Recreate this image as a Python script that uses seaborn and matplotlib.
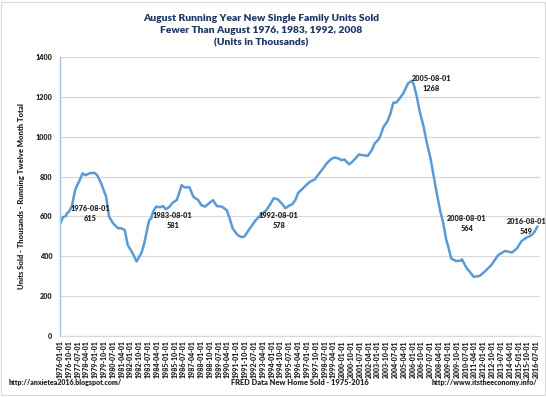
import pandas as pd
import matplotlib.pyplot as plt
from matplotlib.patches import Rectangle
from matplotlib.ticker import MultipleLocator
import seaborn as sns

# Running twelve month total of new single family homes sold (thousands)
months = [
    '1976-01', '1976-04', '1976-07', '1976-08', '1976-10', '1977-01', '1977-03', '1977-05',
    '1977-09', '1977-12', '1978-03', '1978-07', '1978-12', '1979-03', '1979-07', '1979-12',
    '1980-03', '1980-07', '1980-12', '1981-03', '1981-07', '1981-10', '1982-03', '1982-07',
    '1982-12', '1983-03', '1983-07', '1983-08', '1983-10', '1983-12', '1984-03', '1984-07',
    '1984-10', '1985-01', '1985-04', '1985-08', '1985-12', '1986-03', '1986-05', '1986-08',
    '1987-01', '1987-05', '1987-10', '1988-01', '1988-05', '1988-08', '1989-01', '1989-05',
    '1989-10', '1990-03', '1990-06', '1990-09', '1991-02', '1991-06', '1991-09', '1992-01',
    '1992-04', '1992-08', '1992-12', '1993-04', '1993-07', '1993-11', '1994-03', '1994-07',
    '1994-11', '1995-03', '1995-06', '1995-10', '1996-01', '1996-04', '1996-07', '1996-12',
    '1997-04', '1997-09', '1997-12', '1998-04', '1998-09', '1999-01', '1999-05', '1999-09',
    '1999-12', '2000-03', '2000-08', '2000-11', '2001-03', '2001-06', '2001-10', '2002-03',
    '2002-07', '2002-10', '2003-02', '2003-04', '2003-07', '2003-11', '2004-02', '2004-05',
    '2004-08', '2004-12', '2005-03', '2005-08', '2005-10', '2005-12', '2006-02', '2006-05',
    '2006-08', '2006-12', '2007-03', '2007-07', '2007-10', '2008-01', '2008-05', '2008-08',
    '2008-11', '2009-01', '2009-04', '2009-09', '2010-02', '2010-03', '2010-08', '2010-11',
    '2011-03', '2011-09', '2012-02', '2012-09', '2013-04', '2013-11', '2014-03', '2014-06',
    '2014-11', '2015-04', '2015-09', '2016-02', '2016-05', '2016-08',
]
units = [
    562, 596, 602, 615, 624, 649, 699, 741,
    782, 816, 807, 816, 819, 807, 766, 699,
    599, 566, 541, 541, 532, 457, 416, 374,
    416, 466, 560, 581, 591, 624, 649, 646,
    652, 636, 646, 669, 682, 724, 757, 746,
    746, 699, 682, 657, 649, 662, 682, 652,
    649, 632, 591, 541, 507, 496, 499, 528,
    549, 578, 599, 616, 629, 657, 691, 686,
    666, 641, 652, 662, 682, 719, 732, 757,
    774, 786, 807, 832, 866, 886, 896, 891,
    882, 886, 861, 874, 894, 911, 907, 904,
    932, 966, 987, 1007, 1049, 1077, 1116, 1171,
    1171, 1196, 1216, 1268, 1275, 1280, 1259, 1200,
    1125, 1049, 974, 891, 807, 724, 624, 564,
    482, 449, 389, 376, 378, 385, 339, 322,
    297, 301, 322, 356, 406, 427, 422, 419,
    439, 477, 494, 506, 522, 549,
]

# highlighted August points
label_months = ['1976-08', '1983-08', '1992-08', '2005-08', '2008-08', '2016-08']
label_values = [615, 581, 578, 1268, 564, 549]

df = pd.DataFrame({'date': pd.to_datetime(months), 'units': units})
tick_dates = pd.date_range('1976-01-01', '2016-07-01', freq='9MS')

sns.set_style('white')
plt.rcParams['font.family'] = ['Lato', 'DejaVu Sans']
plt.rcParams['font.weight'] = 'heavy'

fig = plt.figure(figsize=(5.46, 3.97), dpi=100)
ax = fig.add_axes([0.110, 0.1537, 0.879, 0.7027])

sns.lineplot(data=df, x='date', y='units', ax=ax, color='#5B9BD5', linewidth=1.8)

ax.set_ylim(0, 1400)
ax.set_xlim(pd.Timestamp('1976-01-01'), pd.Timestamp('2016-10-20'))
ax.yaxis.set_major_locator(MultipleLocator(200))
ax.yaxis.set_minor_locator(MultipleLocator(40))
ax.grid(axis='y', color='#D9D9D9', linewidth=0.9)
ax.set_axisbelow(True)

ax.set_xticks(tick_dates)
ax.set_xticklabels([d.strftime('%Y-%m-%d') for d in tick_dates], rotation=90,
                   fontsize=5, fontweight='heavy')
ax.tick_params(axis='x', length=0, pad=3)
ax.tick_params(axis='y', which='major', labelsize=5.2, length=3, color='#5B9BD5', direction='inout', pad=4)
ax.tick_params(axis='y', which='minor', length=2, color='#5B9BD5', direction='inout')
for lab in ax.get_yticklabels():
    lab.set_fontweight('heavy')

for s in ['top', 'right']:
    ax.spines[s].set_visible(False)
ax.spines['left'].set_color('#9DC3E6')
ax.spines['left'].set_linewidth(1.0)
ax.spines['bottom'].set_color('#D9D9D9')

ax.set_xlabel('')
ax.set_ylabel('Units Sold - Thousands - Running Twelve Month Total', fontsize=5.5,
              fontweight='heavy', labelpad=8)

for m, v in zip(label_months, label_values):
    dx = -8 if m == '2016-08' else 17
    ax.annotate(f'{m}-01\n{v}', xy=(pd.Timestamp(m + '-01'), v), xytext=(dx, 0),
                textcoords='offset points', ha='center', va='center', fontsize=5.3,
                fontweight='heavy', color='#262626', linespacing=1.5)

fig.text(0.478, 0.965, 'August Running Year New Single Family Units Sold\n'
         'Fewer Than August 1976, 1983, 1992, 2008\n(Units in Thousands)',
         ha='center', va='top', fontsize=7.4, fontweight='heavy', color='#1F3864',
         linespacing=1.42)

fig.text(0.016, 0.03, 'http://anxietea2016.blogspot.com/', fontsize=5, fontweight='heavy', color='#262626')
fig.text(0.55, 0.03, 'FRED Data New Home Sold - 1975-2016', ha='center', fontsize=5.4,
         fontweight='heavy', color='#262626')
fig.text(0.984, 0.03, 'http://www.itstheeconomy.info/', ha='right', fontsize=5,
         fontweight='heavy', color='#262626')

fig.patches.append(Rectangle((0.002, 0.004), 0.996, 0.992, transform=fig.transFigure,
                             fill=False, edgecolor='#D9D9D9', linewidth=0.8))

fig.savefig('out.png', dpi=100)
